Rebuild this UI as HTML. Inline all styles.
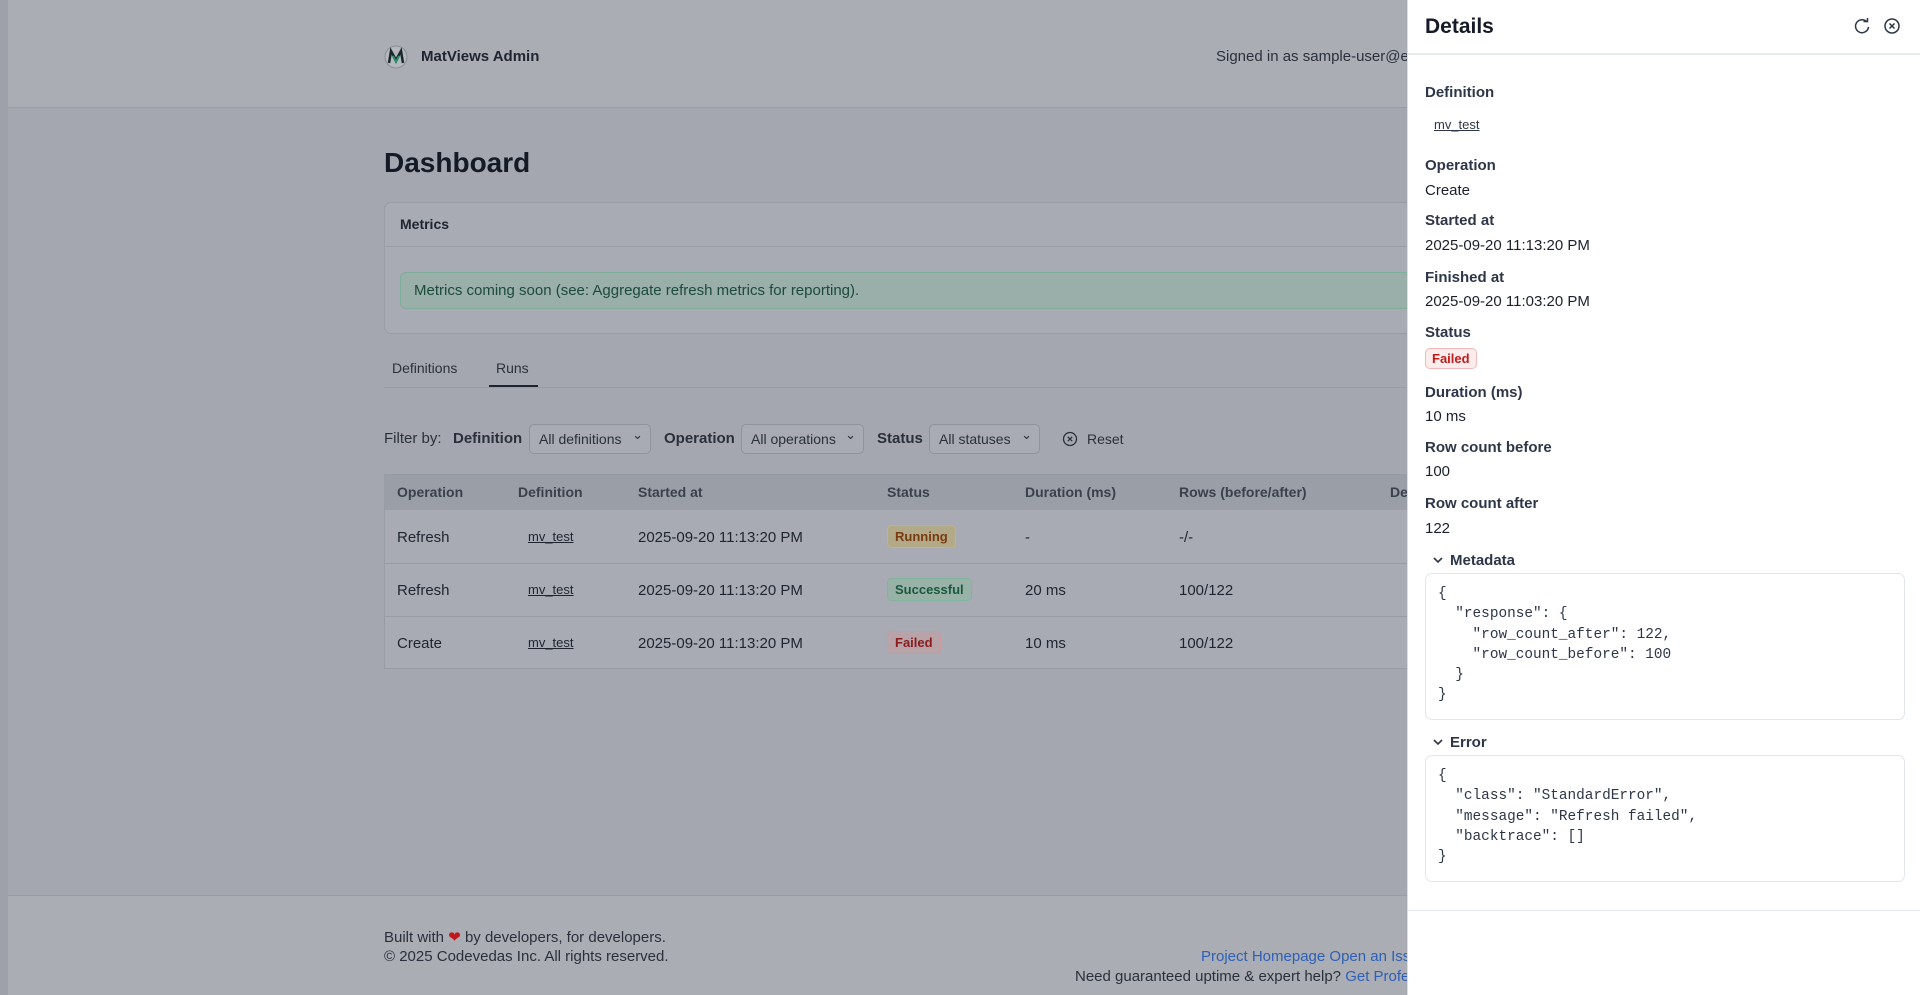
<!DOCTYPE html>
<html><head><meta charset="utf-8">
<style>
*{box-sizing:border-box;margin:0;padding:0}
body{width:1920px;height:995px;overflow:hidden;position:relative;font-family:"Liberation Sans",sans-serif;background:#a3a6ae;color:#1e2430}
.a{position:absolute;white-space:nowrap}
.main{position:absolute;left:8px;top:0;width:1400px;height:995px;background:#a4a7af}
.strip{position:absolute;left:0;top:0;width:8px;height:995px;background:#9ea1a9}
.hdr{position:absolute;left:8px;top:0;width:1400px;height:108px;background:#aaadb4;border-bottom:1px solid #989ca5}
.ftr{position:absolute;left:8px;top:895px;width:1400px;height:100px;background:#aaadb4;border-top:1px solid #989ca5}
.card{position:absolute;left:384px;top:202px;width:1040px;height:132px;border:1px solid #989ca5;border-radius:7px;background:#a8abb3}
.alert{position:absolute;left:400px;top:272px;width:1020px;height:37px;border:1px solid #7fae98;border-radius:6px;background:#9aaeaa;color:#1c4b3a;font-size:15px;line-height:35px;padding-left:13px}
.sel{position:absolute;top:424px;height:30px;border:1px solid #8f939c;border-radius:5px;background:#a8abb3;font-size:14px;line-height:28px;padding-left:9px;color:#2a303b}
.sel:after{content:"⌄";position:absolute;right:7px;top:-4px;font-size:13px}
.tbl{position:absolute;left:384px;top:474px;width:1030px;height:195px;border:1px solid #989ca5;background:#a8abb3}
.th{position:absolute;left:0;top:0;width:100%;height:35px;background:#9a9ea7}
.row{position:absolute;left:0;width:100%;height:1px;background:#989ca5}
.tx{font-size:15px;color:#1e2430}
.lnk{text-decoration:underline;font-size:13px}
.b{font-size:13px;border-radius:5px;padding:3px 7px;font-weight:bold}
.panel{position:absolute;left:1407px;top:0;width:513px;height:995px;background:#fff;border-left:1px solid #ddd}
.lab{position:absolute;left:17px;font-size:15px;font-weight:bold;color:#2d3748;white-space:nowrap}
.val{position:absolute;left:17px;font-size:15px;color:#1a202c;white-space:nowrap}
.box{position:absolute;left:17px;width:480px;border:1px solid #e2e6ec;border-radius:7px;font-family:"Liberation Mono",monospace;font-size:14.4px;color:#2d3748;line-height:20.3px;padding:10px 0 0 12px;white-space:pre}
</style></head><body>
<div class="main"></div><div class="strip"></div>
<div class="hdr"></div>
<svg class="a" style="left:384px;top:45px" width="24" height="24"><circle cx="12" cy="12" r="11" fill="#b5b8bf" stroke="#8a8e97"/><path d="M5 18 L7 6 L12 15 L17 6 L19 18" fill="none" stroke="#1a2a2a" stroke-width="2.5"/><path d="M9 11 L12 17 L15 11" fill="none" stroke="#2a8a6a" stroke-width="2"/></svg>
<div class="a" style="left:421px;top:48px;font-size:15px;font-weight:bold;color:#1e2430">MatViews Admin</div>
<div class="a" style="left:1216px;top:48px;font-size:15px;color:#2a303b">Signed in as sample-user@example.com</div>
<div class="a" style="left:384px;top:147px;font-size:28px;font-weight:bold;color:#141a26">Dashboard</div>
<div class="card"><div style="position:absolute;left:0;top:43px;width:100%;height:1px;background:#989ca5"></div></div>
<div class="a" style="left:400px;top:216px;font-size:14px;font-weight:bold;color:#1e2430">Metrics</div>
<div class="alert">Metrics coming soon (see: Aggregate refresh metrics for reporting).</div>
<div class="a" style="left:392px;top:360px;font-size:14px;color:#2a303b">Definitions</div>
<div class="a" style="left:496px;top:360px;font-size:14px;color:#2a303b">Runs</div>
<div class="a" style="left:384px;top:387px;width:1024px;height:1px;background:#989ca5"></div>
<div class="a" style="left:489px;top:385px;width:49px;height:2px;background:#1e2430"></div>
<div class="a" style="left:384px;top:430px;font-size:15px;color:#2a303b">Filter by:</div>
<div class="a" style="left:453px;top:430px;font-size:15px;font-weight:bold;color:#2a303b">Definition</div>
<div class="sel" style="left:529px;width:122px">All definitions</div>
<div class="a" style="left:664px;top:430px;font-size:15px;font-weight:bold;color:#2a303b">Operation</div>
<div class="sel" style="left:741px;width:123px">All operations</div>
<div class="a" style="left:877px;top:430px;font-size:15px;font-weight:bold;color:#2a303b">Status</div>
<div class="sel" style="left:929px;width:111px">All statuses</div>
<svg class="a" style="left:1062px;top:431px" width="16" height="16"><circle cx="8" cy="8" r="6.5" fill="none" stroke="#2a303b" stroke-width="1.3"/><path d="M5.8 5.8L10.2 10.2M10.2 5.8L5.8 10.2" stroke="#2a303b" stroke-width="1.3"/></svg>
<div class="a" style="left:1087px;top:431px;font-size:14px;color:#2a303b">Reset</div>
<div class="tbl"><div class="th"></div><div class="row" style="top:88px"></div><div class="row" style="top:141px"></div></div>
<div class="a" style="left:397px;top:484px;font-size:14px;font-weight:bold;color:#3a404c">Operation</div>
<div class="a" style="left:518px;top:484px;font-size:14px;font-weight:bold;color:#3a404c">Definition</div>
<div class="a" style="left:638px;top:484px;font-size:14px;font-weight:bold;color:#3a404c">Started at</div>
<div class="a" style="left:887px;top:484px;font-size:14px;font-weight:bold;color:#3a404c">Status</div>
<div class="a" style="left:1025px;top:484px;font-size:14px;font-weight:bold;color:#3a404c">Duration (ms)</div>
<div class="a" style="left:1179px;top:484px;font-size:14px;font-weight:bold;color:#3a404c">Rows (before/after)</div>
<div class="a" style="left:1390px;top:484px;font-size:14px;font-weight:bold;color:#3a404c">De</div>

<div class="a tx" style="left:397px;top:529px">Refresh</div><div class="a lnk" style="left:528px;top:529px">mv_test</div><div class="a tx" style="left:638px;top:529px">2025-09-20 11:13:20 PM</div>
<div class="a b" style="left:887px;top:525px;background:#b2a988;border:1px solid #c9b46a;color:#7a3a10">Running</div>
<div class="a tx" style="left:1025px;top:529px">-</div><div class="a tx" style="left:1179px;top:529px">-/-</div>
<div class="a tx" style="left:397px;top:582px">Refresh</div><div class="a lnk" style="left:528px;top:582px">mv_test</div><div class="a tx" style="left:638px;top:582px">2025-09-20 11:13:20 PM</div>
<div class="a b" style="left:887px;top:578px;background:#98b2a8;border:1px solid #7fb59c;color:#1a5a3c">Successful</div>
<div class="a tx" style="left:1025px;top:582px">20 ms</div><div class="a tx" style="left:1179px;top:582px">100/122</div>
<div class="a tx" style="left:397px;top:635px">Create</div><div class="a lnk" style="left:528px;top:635px">mv_test</div><div class="a tx" style="left:638px;top:635px">2025-09-20 11:13:20 PM</div>
<div class="a b" style="left:887px;top:631px;background:#b7a3a8;border:1px solid #c99aa0;color:#8a1c1c">Failed</div>
<div class="a tx" style="left:1025px;top:635px">10 ms</div><div class="a tx" style="left:1179px;top:635px">100/122</div>

<div class="ftr"></div>
<div class="a" style="left:384px;top:928px;font-size:15px;color:#2a303b">Built with <span style="color:#c01818">❤</span> by developers, for developers.</div>
<div class="a" style="left:384px;top:948px;font-size:15px;color:#2a303b">© 2025 Codevedas Inc. All rights reserved.</div>
<div class="a" style="left:1201px;top:948px;font-size:15px;color:#2e5fb8">Project Homepage Open an Issue</div>
<div class="a" style="left:1075px;top:968px;font-size:15px;color:#2a303b">Need guaranteed uptime &amp; expert help? <span style="color:#2e5fb8">Get Professional Support</span></div>

<div class="panel">
<div class="a" style="left:17px;top:15px;font-size:21px;font-weight:bold;color:#141a26">Details</div>
<svg class="a" style="left:445px;top:17px" width="18" height="18"><path d="M14 5 A6.5 6.5 0 1 0 15.5 10" fill="none" stroke="#2d3748" stroke-width="1.5"/><path d="M10.5 4.5 L14.5 4.5 L14.5 1" fill="none" stroke="#2d3748" stroke-width="1.5"/></svg>
<svg class="a" style="left:475px;top:17px" width="18" height="18"><circle cx="9" cy="9" r="7" fill="none" stroke="#2d3748" stroke-width="1.5"/><path d="M6.5 6.5L11.5 11.5M11.5 6.5L6.5 11.5" stroke="#2d3748" stroke-width="1.5"/></svg>
<div class="a" style="left:0;top:53px;width:513px;height:2px;background:#e5e9f0"></div>
<div class="lab" style="top:84px">Definition</div>
<div class="a lnk" style="left:26px;top:117px;color:#2d3748">mv_test</div>
<div class="lab" style="top:157px">Operation</div><div class="val" style="top:182px">Create</div>
<div class="lab" style="top:212px">Started at</div><div class="val" style="top:237px">2025-09-20 11:13:20 PM</div>
<div class="lab" style="top:269px">Finished at</div><div class="val" style="top:293px">2025-09-20 11:03:20 PM</div>
<div class="lab" style="top:324px">Status</div>
<div class="a b" style="left:17px;top:348px;background:#fdecec;border:1px solid #f5b8b8;color:#c01c1c;padding:2px 6px">Failed</div>
<div class="lab" style="top:384px">Duration (ms)</div><div class="val" style="top:408px">10 ms</div>
<div class="lab" style="top:439px">Row count before</div><div class="val" style="top:463px">100</div>
<div class="lab" style="top:495px">Row count after</div><div class="val" style="top:520px">122</div>
<svg class="a" style="left:24px;top:554px" width="12" height="12"><path d="M2 4L6 8L10 4" fill="none" stroke="#2d3748" stroke-width="1.6"/></svg>
<div class="lab" style="left:42px;top:552px">Metadata</div>
<div class="box" style="top:573px;height:147px">{
  "response": {
    "row_count_after": 122,
    "row_count_before": 100
  }
}</div>
<svg class="a" style="left:24px;top:736px" width="12" height="12"><path d="M2 4L6 8L10 4" fill="none" stroke="#2d3748" stroke-width="1.6"/></svg>
<div class="lab" style="left:42px;top:734px">Error</div>
<div class="box" style="top:755px;height:127px">{
  "class": "StandardError",
  "message": "Refresh failed",
  "backtrace": []
}</div>
<div class="a" style="left:0;top:910px;width:513px;height:1px;background:#e5e9f0"></div>
</div>
</body></html>
